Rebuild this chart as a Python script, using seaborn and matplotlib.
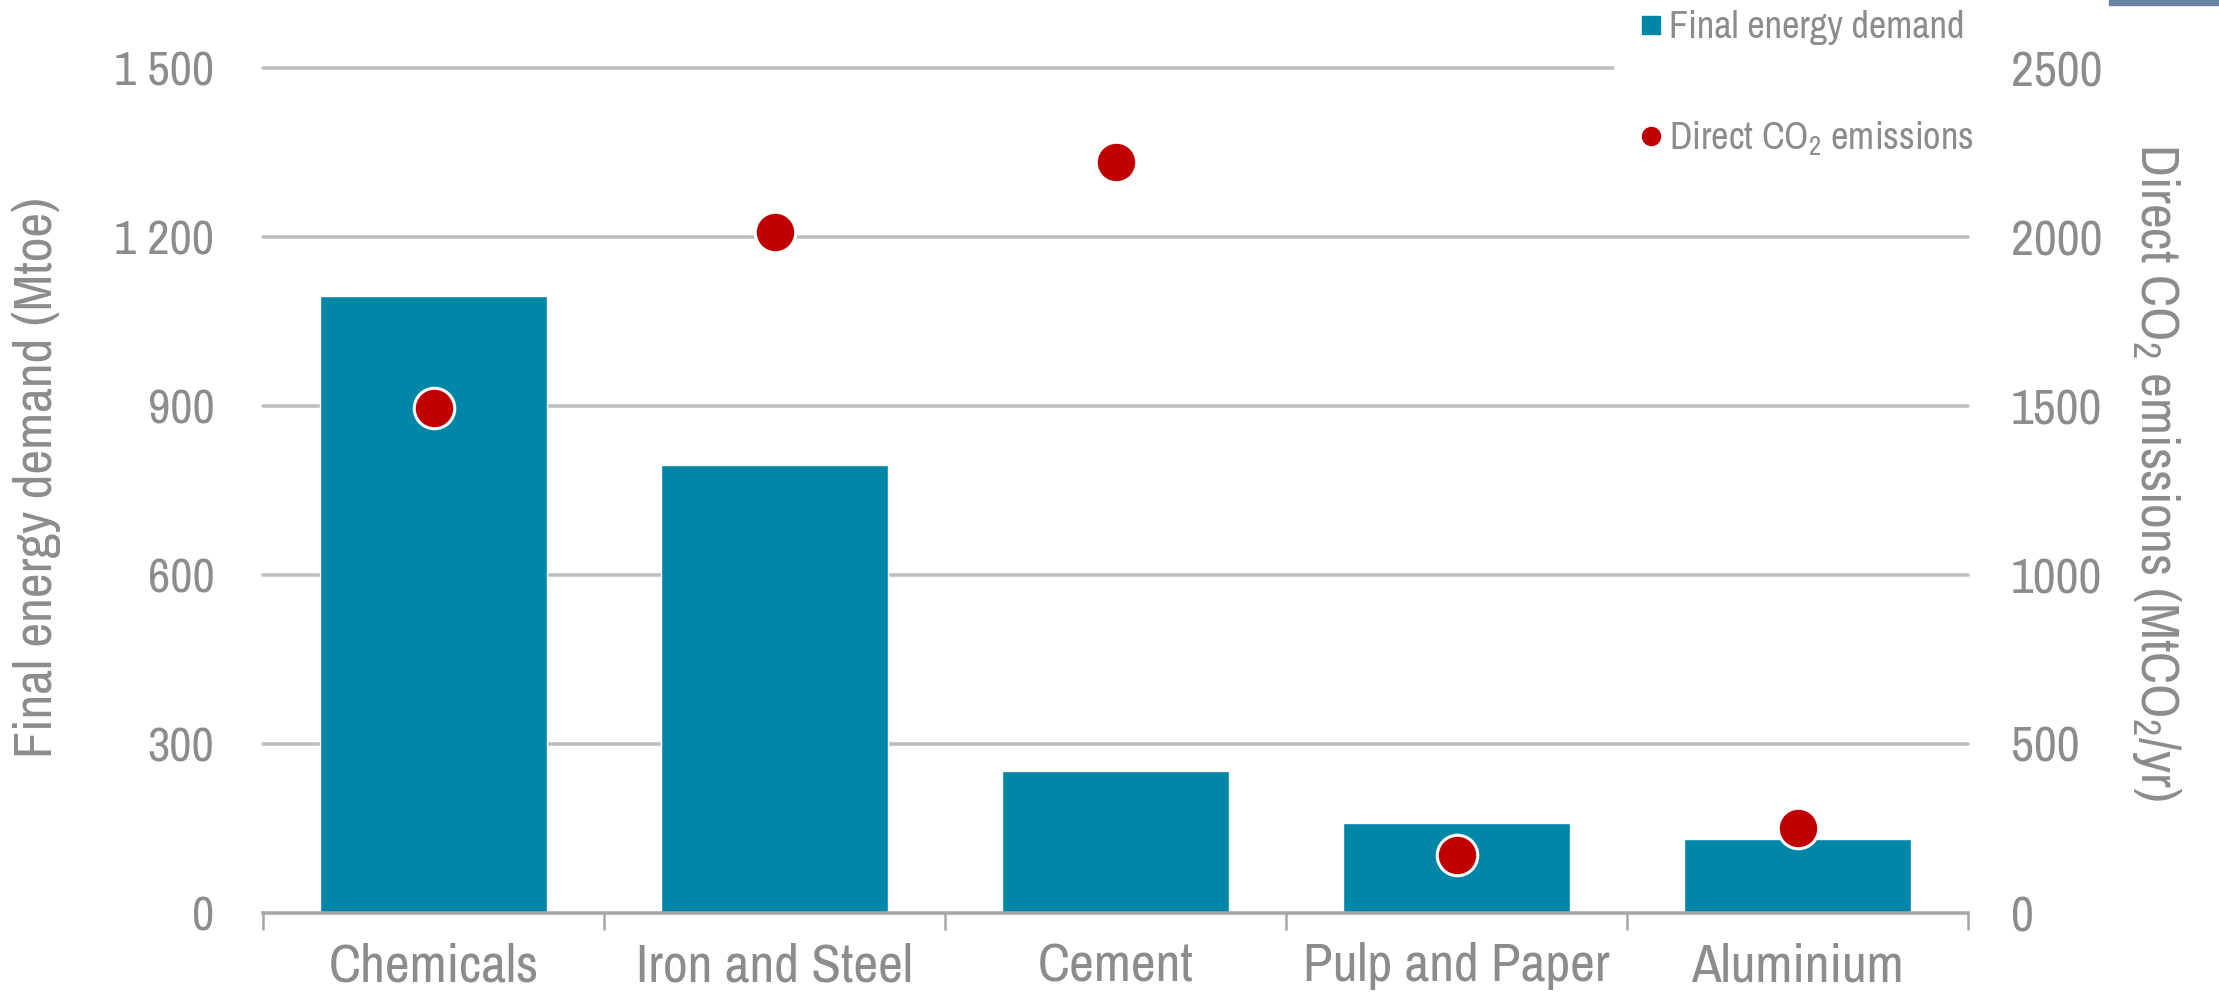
import matplotlib
matplotlib.use("Agg")
import matplotlib.pyplot as plt
import seaborn as sns
import pandas as pd
from matplotlib.lines import Line2D
from matplotlib.patches import Rectangle
from matplotlib import font_manager

sectors = ["Chemicals", "Iron and Steel", "Cement", "Pulp and Paper", "Aluminium"]
energy_mtoe = [1095, 795, 252, 160, 131]
co2_mt = [1494, 2015, 2222, 172, 251]
left_ticks = [0, 300, 600, 900, 1200, 1500]
left_tick_labels = ["0", "300", "600", "900", "1 200", "1 500"]
right_ticks = [0, 500, 1000, 1500, 2000, 2500]
right_tick_labels = ["0", "500", "1000", "1500", "2000", "2500"]

BAR = "#0087A8"
DOT = "#C00000"
TXT = "#8C8C8C"
GRID = "#BFBFBF"

sns.set_theme(style="white")
names = {f.name for f in font_manager.fontManager.ttflist}
narrow = next((n for n in ["Liberation Sans Narrow", "Archivo Narrow", "Roboto Condensed",
                           "PT Sans Narrow", "Liberation Sans"] if n in names), "DejaVu Sans")
plt.rcParams["font.family"] = [narrow, "Liberation Sans", "DejaVu Sans"]
plt.rcParams["mathtext.fontset"] = "custom"
plt.rcParams["mathtext.rm"] = narrow
plt.rcParams["mathtext.it"] = narrow

df = pd.DataFrame({"sector": sectors, "energy": energy_mtoe, "co2": co2_mt})

fig = plt.figure(figsize=(22.19, 9.93), dpi=100)
ax = fig.add_axes([263 / 2219, 1 - 913 / 993, (1968 - 263) / 2219, (913 - 68) / 993])

sns.barplot(data=df, x="sector", y="energy", color=BAR, width=0.667,
            saturation=1, ax=ax, zorder=3)
ax.set_xlim(-0.5, len(sectors) - 0.5)
ax.set_ylim(0, 1500)
ax.set_yticks(left_ticks)
ax.set_yticklabels(left_tick_labels)
for y in left_ticks[1:]:
    xmax = 0.792 if y == left_ticks[-1] else 1.0
    ax.axhline(y, xmin=0, xmax=xmax, color=GRID, lw=2.6, zorder=1, clip_on=False)

ax2 = ax.twinx()
sns.scatterplot(data=df, x="sector", y="co2", color=DOT, s=850,
                edgecolor="white", linewidth=2.2, ax=ax2, zorder=5, legend=False)
ax2.set_ylim(0, 2500)
ax2.set_yticks(right_ticks)
ax2.set_yticklabels(right_tick_labels)
ax2.set_xlim(-0.5, len(sectors) - 0.5)

for a in (ax, ax2):
    for s in a.spines.values():
        s.set_visible(False)
    a.set_xlabel("")

ax.spines["bottom"].set_visible(True)
ax.spines["bottom"].set_color("#A6A6A6")
ax.spines["bottom"].set_linewidth(2.6)
ax.spines["bottom"].set_zorder(4)

ax.set_xticks(range(len(sectors)))
ax.set_xticklabels(sectors, fontsize=39, color=TXT)
ax.set_xticks([i - 0.5 for i in range(len(sectors) + 1)], minor=True)
ax.tick_params(axis="x", which="major", length=0, pad=21)
ax.tick_params(axis="x", which="minor", length=12, width=1.8, color="#A6A6A6", bottom=True)
ax.tick_params(axis="y", length=0, labelsize=35, labelcolor=TXT, pad=35)
ax2.tick_params(axis="y", length=0, labelsize=36, labelcolor=TXT, pad=31)

ax.set_ylabel("Final energy demand (Mtoe)", fontsize=39, color=TXT, labelpad=38)
ax.yaxis.label.set_y(0.515)
ax2.set_ylabel("Direct CO$_2$ emissions (MtCO$_2$/yr)", fontsize=39,
               color=TXT, rotation=270, labelpad=58)
ax2.yaxis.label.set_y(0.522)

handles = [
    Line2D([], [], marker="s", color="none", markerfacecolor=BAR, markeredgecolor=BAR,
           markersize=13, label="Final energy demand"),
    Line2D([], [], marker="o", color="none", markerfacecolor=DOT, markeredgecolor=DOT,
           markersize=13, label="Direct CO$_2$ emissions"),
]
leg = fig.legend(handles=handles, loc="upper left", bbox_to_anchor=(1638 / 2219, 0.990),
                 frameon=False, prop={"size": 27.5}, labelcolor=TXT,
                 handletextpad=0.1, handlelength=0.7, labelspacing=1.95,
                 borderpad=0.0, borderaxespad=0.0)

fig.patches.append(Rectangle((2109 / 2219, 1 - 5 / 993), 110 / 2219, 5 / 993,
                             transform=fig.transFigure, color="#6A84A8", zorder=10))

fig.savefig("out.png", dpi=100, facecolor="white")
